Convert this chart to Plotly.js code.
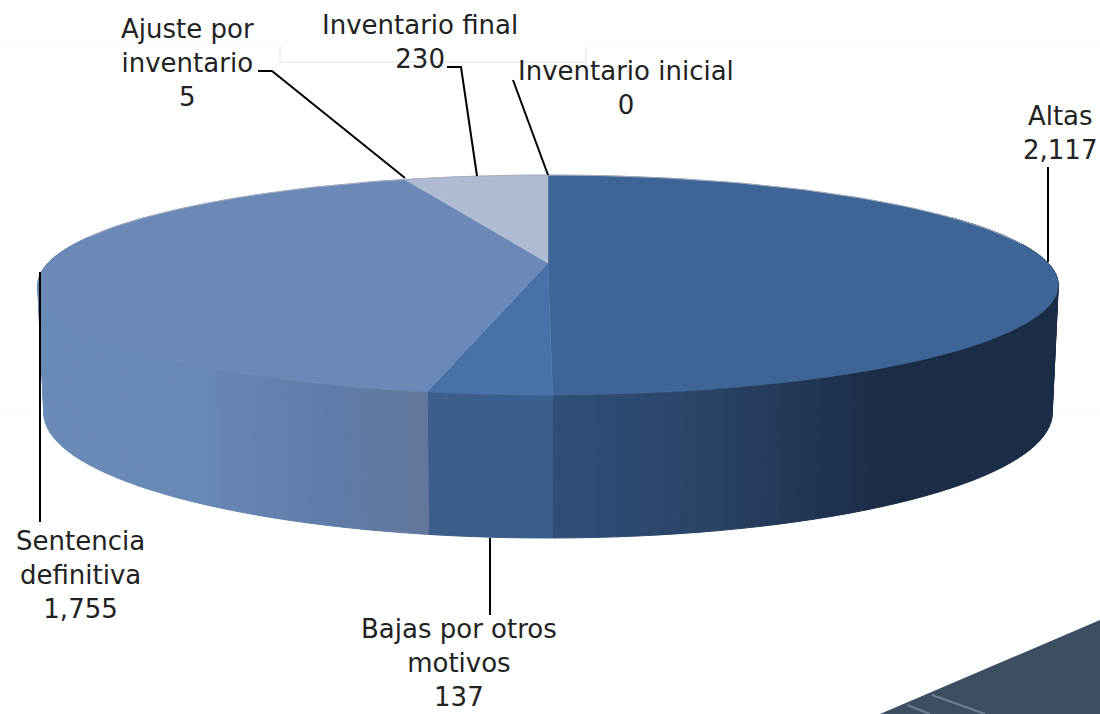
<!DOCTYPE html>
<html><head><meta charset="utf-8">
<script src="https://cdn.plot.ly/plotly-3.0.1.min.js"></script>
<style>html,body{margin:0;padding:0;background:#fff}#chart{width:1100px;height:714px}</style>
</head><body><div id="chart"></div>
<script>
// --- data (clockwise from 12 o'clock) ---
const categories = ["Altas", "Bajas por otros motivos", "Sentencia definitiva", "Ajuste por inventario", "Inventario final", "Inventario inicial"];
const values = [2117, 137, 1755, 5, 230, 0];
const labelLines = [["Altas"], ["Bajas por otros", "motivos"], ["Sentencia", "definitiva"], ["Ajuste por", "inventario"], ["Inventario final"], ["Inventario inicial"]];

// --- styles ---
const topColors = ["#3e6597", "#4672a8", "#6a89b8", "#a9b5ce", "#b0bbd3", "#b0bbd3"];
const sideStops = [
  [[552,[47,79,120]],[700,[42,68,103]],[880,[27,44,71]],[1055,[27,44,71]]],
  [[427,[60,94,139]],[552,[58,95,140]]],
  [[36,[106,138,184]],[200,[104,136,181]],[330,[94,124,168]],[427,[100,119,155]]],
  [], [], []
];
const labelPos = [[1060,133],[459,663],[80,575],[187,63],[420,42],[626,88]];
const leaders = [
  [[1048,167],[1048,262]], [[490,538],[490,615]], [[40,522],[40,272]],
  [[258,71],[272,71],[405,178]], [[447,67],[461,67],[477,176]], [[513,80],[548,175]]
];

// --- projection of the tilted disc onto the axes ---
const CX = 548, CY = 263, A = 500, B = 105.6, K = 0.2;
const LCY = 388, LA = 494, LB = 120;
const rad = d => d * Math.PI / 180;
function topPt(t){ const u=Math.sin(rad(t)), v=Math.cos(rad(t)), w=1+K*v; return [CX+A*u/w, CY-B*v/w]; }
function lowPt(t){ const u=Math.sin(rad(t)), v=Math.cos(rad(t)), w=1+K*v; return [CX+LA*u/w, LCY-LB*v/w]; }
function stopColor(stops,x){
  if(x<=stops[0][0]) return stops[0][1];
  for(let i=1;i<stops.length;i++){ if(x<=stops[i][0]){ const f=(x-stops[i-1][0])/(stops[i][0]-stops[i-1][0]);
    return stops[i-1][1].map((c,j)=>c+(stops[i][1][j]-c)*f); } }
  return stops[stops.length-1][1];
}
const total = values.reduce((a,b)=>a+b,0);
const traces = [];
const base = {type:"scatter",mode:"lines",fill:"toself",hoverinfo:"skip",showlegend:false};
let start = 0;
const spans = values.map(v=>{ const s=[start,start+v/total*360]; start=s[1]; return s; });

// side wall
spans.forEach((s,i)=>{
  const a=Math.max(s[0],62), b=Math.min(s[1],298);
  if(b<=a || !sideStops[i].length) return;
  const n=Math.max(6,Math.round((b-a)/2));
  for(let j=0;j<n;j++){
    const t1=a+(b-a)*j/n, t2=a+(b-a)*(j+1)/n;
    const p=[topPt(t1),topPt(t2),lowPt(t2),lowPt(t1)];
    const col=stopColor(sideStops[i],(p[0][0]+p[1][0]+p[2][0]+p[3][0])/4).map(Math.round);
    const c=`rgb(${col.join(",")})`;
    traces.push({...base,x:p.map(q=>q[0]).concat(p[0][0]),y:p.map(q=>q[1]).concat(p[0][1]),fillcolor:c,line:{color:c,width:1}});
  }
});
// top face
spans.forEach((s,i)=>{
  if(s[1]<=s[0]) return;
  const xs=[CX], ys=[CY], n=Math.max(2,Math.ceil((s[1]-s[0])));
  for(let j=0;j<=n;j++){ const p=topPt(s[0]+(s[1]-s[0])*j/n); xs.push(p[0]); ys.push(p[1]); }
  xs.push(CX); ys.push(CY);
  traces.push({...base,name:categories[i],x:xs,y:ys,fillcolor:topColors[i],line:{color:topColors[i],width:0.5}});
});
// back rim highlight
const rx=[], ry=[];
for(let t=285;t<=440;t+=2){ const p=topPt(t); rx.push(p[0]); ry.push(p[1]); }
traces.push({type:"scatter",mode:"lines",x:rx,y:ry,hoverinfo:"skip",showlegend:false,line:{color:"#a4abb8",width:1}});

// --- layout ---
const fmt = n => n.toLocaleString("en-US");
const annotations = categories.map((c,i)=>({
  x:labelPos[i][0], y:labelPos[i][1], xref:"x", yref:"y", showarrow:false, align:"center",
  xanchor:"center", yanchor:"middle",
  text:labelLines[i].concat(fmt(values[i])).join("<br>"),
  font:{family:"'DejaVu Sans', sans-serif",size:26,color:"#222222"}
}));
const poly = pts => "M"+pts.map(p=>p.join(",")).join(" L");
const shapes = [
  {type:"path",layer:"below",path:"M880,714 L1100,620 L1100,714 Z",fillcolor:"#3d4e60",line:{width:0}},
  {type:"line",layer:"below",x0:932,y0:695,x1:985,y1:714,line:{color:"#6f7f90",width:2}},
  {type:"line",layer:"below",x0:907,y0:705,x1:930,y1:714,line:{color:"#6f7f90",width:2}},
  {type:"path",layer:"below",path:"M280,46 L280,62 L586,62 L586,46",line:{color:"#e2e2e2",width:1}},
  {type:"line",layer:"below",x0:0,y0:43,x1:280,y1:43,line:{color:"#fbfbfb",width:1}},
  {type:"line",layer:"below",x0:586,y0:43,x1:1100,y1:43,line:{color:"#fbfbfb",width:1}},
  {type:"line",layer:"below",x0:0,y0:415,x1:1100,y1:415,line:{color:"#fafafa",width:1}}
].concat(leaders.map(l=>({type:"path",path:poly(l),line:{color:"#000",width:2}})));

const axis = {visible:false,fixedrange:true,showgrid:false,zeroline:false};
Plotly.newPlot("chart",traces,{
  width:1100,height:714,margin:{l:0,r:0,t:0,b:0},
  paper_bgcolor:"#fff",plot_bgcolor:"rgba(0,0,0,0)",showlegend:false,
  xaxis:{...axis,range:[0,1100]},yaxis:{...axis,range:[714,0]},
  annotations,shapes
},{displayModeBar:false,staticPlot:true});
</script></body></html>
